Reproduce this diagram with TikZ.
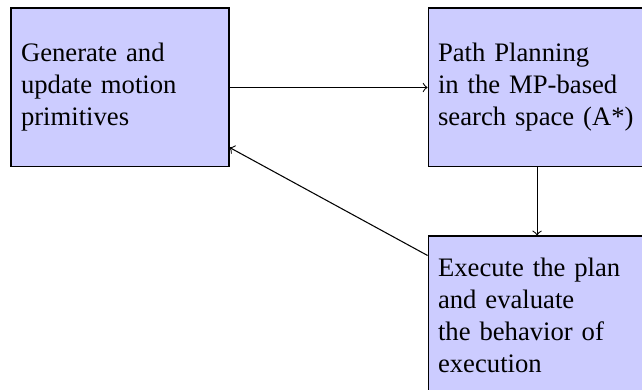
\documentclass[tikz,border=0pt]{standalone}
\usepackage{fontspec}
\setmainfont{Liberation Serif}
\usepackage{xcolor}
\usetikzlibrary{positioning,arrows}

\begin{document}
\begin{tikzpicture}[block/.style={draw, rectangle, fill=blue!20, minimum width=81.75pt, minimum height=59.6pt, inner sep=3.75pt, text width=74.25pt, align=left}]
    \useasboundingbox (0,0) rectangle (240.75pt,-145.875pt);

    \node[block] (gen) at (45pt,-32.8pt)
        {Generate and\\ update motion\\ primitives};

    \node[block, right=74.25pt of gen] (plan)
        {Path Planning\\ in the MP-based\\ search space (A*)};

    \node[block, below=25.5pt of plan] (exec)
        {Execute the plan\\ and evaluate\\ the behavior of\\ execution};

    \draw[->] (gen) -- (plan);
    \draw[->] (plan) -- (exec);
    \draw[->] ([yshift=22.5pt]exec.west) -- ([yshift=-22.5pt]gen.east);
\end{tikzpicture}
\end{document}
